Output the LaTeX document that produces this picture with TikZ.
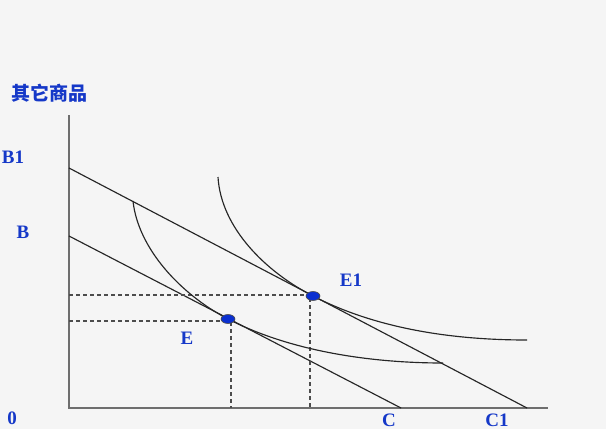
\documentclass[tikz,border=0pt]{standalone}
\usepackage{fontspec}
\usetikzlibrary{shapes.geometric}
\setmainfont{Liberation Serif}
\newfontfamily\cjk{Noto Sans CJK SC}
\definecolor{lbl}{HTML}{1538C8}
\definecolor{dotblue}{HTML}{0A2FD0}
\definecolor{axisgray}{HTML}{6E6E6E}
\definecolor{bgc}{HTML}{F5F5F5}
\begin{document}
\begin{tikzpicture}[x=1pt,y=-1pt,
  lab/.style={text=lbl,font=\bfseries\fontsize{19}{21}\selectfont,inner sep=0pt},
  axisline/.style={draw=axisgray,line width=1.9pt},
  budget/.style={draw=black!85,line width=1.15pt},
  icurve/.style={draw=black!85,line width=1.15pt},
  guide/.style={draw=black!70,line width=1.2pt,dash pattern=on 4pt off 3pt},
  eqdot/.style={ellipse,draw=black!70,fill=dotblue,minimum width=14pt,minimum height=9pt,inner sep=0pt,line width=0.6pt}]
\useasboundingbox (0,0) rectangle (606,429);
\fill[bgc] (0,0) rectangle (606,429);
% axes
\coordinate (O) at (69,408);
\coordinate (Ytop) at (69,115);
\coordinate (Xend) at (548,408);
\draw[axisline] (Ytop) -- (O) -- (Xend);
% budget lines
\coordinate (B1) at (69,168);
\coordinate (C1) at (527,408);
\coordinate (B) at (69,236);
\coordinate (C) at (401,408);
\draw[budget] (B1) -- (C1);
\draw[budget] (B) -- (C);
% equilibrium points
\coordinate (Ep) at (228,319);
\coordinate (E1p) at (313,296);
% dashed guides
\coordinate (yE) at (69,321);
\coordinate (yE1) at (69,295);
\coordinate (xE) at (231,408);
\coordinate (xE1) at (310,408);
\draw[guide] (yE1) -- (310,295);
\draw[guide] (yE) -- (226,321);
\draw[guide] (231,322) -- (xE);
\draw[guide] (310,298) -- (xE1);
% indifference curves
\coordinate (U0s) at (133,201);
\coordinate (U0e) at (443,363);
\coordinate (U1s) at (218,177);
\coordinate (U1e) at (527,340);
\draw[icurve] (U0s) .. controls (138,248) and (180,294) .. (Ep)
  .. controls (290,351) and (370,363) .. (U0e);
\draw[icurve] (U1s) .. controls (221,228) and (266,272) .. (E1p)
  .. controls (375,328) and (450,340) .. (U1e);
% dots
\node[eqdot] (E) at (Ep) {};
\node[eqdot] (E1) at (E1p) {};
% labels
\node[text=lbl,font=\cjk\bfseries\fontsize{19}{21}\selectfont,inner sep=0pt] (ylab) at (50,93) {其它商品};
\node[lab] (lB1) at (13,157) {B1};
\node[lab] (lB) at (23,232) {B};
\node[lab] (l0) at (12,418) {0};
\node[lab] (lC) at (389,420) {C};
\node[lab] (lC1) at (497,420) {C1};
\node[lab] (lE) at (187,338) {E};
\node[lab] (lE1) at (351,280) {E1};
\end{tikzpicture}
\end{document}
